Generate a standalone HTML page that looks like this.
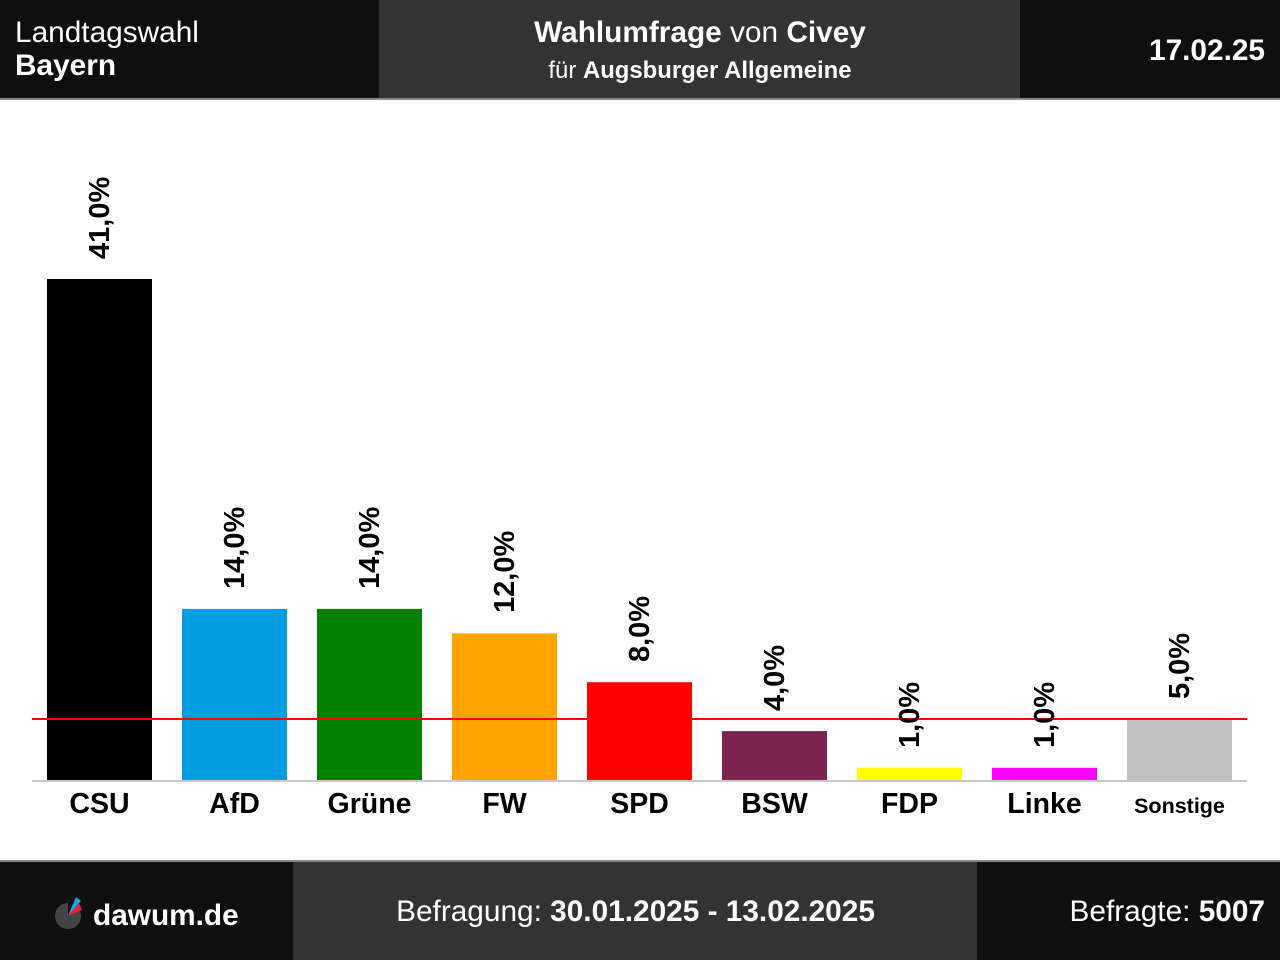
<!DOCTYPE html>
<html>
<head>
<meta charset="utf-8">
<style>
  html, body { margin:0; padding:0; background:#ffffff; }
  body { width:1280px; height:960px; overflow:hidden; }
  svg { display:block; font-family:"Liberation Sans", Arial, sans-serif; }
</style>
</head>
<body>
<svg width="1280" height="960" viewBox="0 0 1280 960" xmlns="http://www.w3.org/2000/svg">
  <rect x="0" y="0" width="1280" height="960" fill="#ffffff"/>

  <!-- HEADER -->
  <rect x="0" y="0" width="379" height="98" fill="#0f0f0f"/>
  <rect x="379" y="0" width="641" height="98" fill="#333333"/>
  <rect x="1020" y="0" width="260" height="98" fill="#0f0f0f"/>
  <rect x="0" y="98" width="1280" height="2" fill="#888888"/>

  <text x="15" y="42" font-size="29.8" fill="#ffffff">Landtagswahl</text>
  <text x="15" y="75" font-size="29.8" font-weight="bold" fill="#ffffff">Bayern</text>

  <text x="700" y="42" font-size="29.8" fill="#ffffff" text-anchor="middle"><tspan font-weight="bold">Wahlumfrage</tspan> von <tspan font-weight="bold">Civey</tspan></text>
  <text x="700" y="78" font-size="23.9" fill="#ffffff" text-anchor="middle">für <tspan font-weight="bold">Augsburger Allgemeine</tspan></text>

  <text x="1265" y="60" font-size="29.8" font-weight="bold" fill="#ffffff" text-anchor="end">17.02.25</text>

  <!-- BARS -->
  <rect x="47"   y="279"   width="105" height="501"   fill="#000000"/>
  <rect x="182"  y="608.9" width="105" height="171.1" fill="#009ee0"/>
  <rect x="317"  y="608.9" width="105" height="171.1" fill="#008000"/>
  <rect x="452"  y="633.4" width="105" height="146.6" fill="#ffa500"/>
  <rect x="587"  y="682.2" width="105" height="97.8"  fill="#ff0000"/>
  <rect x="722"  y="731.1" width="105" height="48.9"  fill="#7b2450"/>
  <rect x="857"  y="767.8" width="105" height="12.2"  fill="#ffff00"/>
  <rect x="992"  y="767.8" width="105" height="12.2"  fill="#ff00ff"/>
  <rect x="1127" y="718.9" width="105" height="61.1"  fill="#c0c0c0"/>

  <rect x="32" y="780" width="1215" height="2" fill="#c8c8c8"/>
  <rect x="32" y="718" width="1215" height="2" fill="#ff0000"/>

  <!-- VALUE LABELS -->
  <g font-size="29" font-weight="bold" fill="#000000">
    <text x="109"  y="259" transform="rotate(-90 109 259)">41,0%</text>
    <text x="244"  y="589" transform="rotate(-90 244 589)">14,0%</text>
    <text x="379"  y="589" transform="rotate(-90 379 589)">14,0%</text>
    <text x="514"  y="613" transform="rotate(-90 514 613)">12,0%</text>
    <text x="649"  y="662" transform="rotate(-90 649 662)">8,0%</text>
    <text x="784"  y="711" transform="rotate(-90 784 711)">4,0%</text>
    <text x="919"  y="748" transform="rotate(-90 919 748)">1,0%</text>
    <text x="1054" y="748" transform="rotate(-90 1054 748)">1,0%</text>
    <text x="1189" y="699" transform="rotate(-90 1189 699)">5,0%</text>
  </g>

  <!-- CATEGORY LABELS -->
  <g font-size="28.5" font-weight="bold" fill="#000000" text-anchor="middle">
    <text x="99.5"  y="813">CSU</text>
    <text x="234.5" y="813">AfD</text>
    <text x="369.5" y="813">Grüne</text>
    <text x="504.5" y="813">FW</text>
    <text x="639.5" y="813">SPD</text>
    <text x="774.5" y="813">BSW</text>
    <text x="909.5" y="813">FDP</text>
    <text x="1044.5" y="813">Linke</text>
    <text x="1179.5" y="813" font-size="21.5">Sonstige</text>
  </g>

  <!-- FOOTER -->
  <rect x="0" y="860" width="1280" height="2" fill="#888888"/>
  <rect x="0" y="862" width="293" height="98" fill="#0f0f0f"/>
  <rect x="293" y="862" width="684" height="98" fill="#333333"/>
  <rect x="977" y="862" width="303" height="98" fill="#0f0f0f"/>

  <g>
    <path d="M68,916 L68,903 A13,13 0 1,0 79.3,909.5 Z" fill="#444444"/>
    <path d="M68,916 L76,897 L81,901 Z" fill="#1aa3e8"/>
    <path d="M68,916 L79,903 L82,910 Z" fill="#e8202a"/>
  </g>
  <text x="93" y="925" font-size="29.8" font-weight="bold" fill="#ffffff">dawum.de</text>

  <text x="635.5" y="921" font-size="29.8" fill="#ffffff" text-anchor="middle">Befragung: <tspan font-weight="bold">30.01.2025 - 13.02.2025</tspan></text>

  <text x="1265" y="921" font-size="29.8" fill="#ffffff" text-anchor="end">Befragte: <tspan font-weight="bold">5007</tspan></text>
</svg>
</body>
</html>
